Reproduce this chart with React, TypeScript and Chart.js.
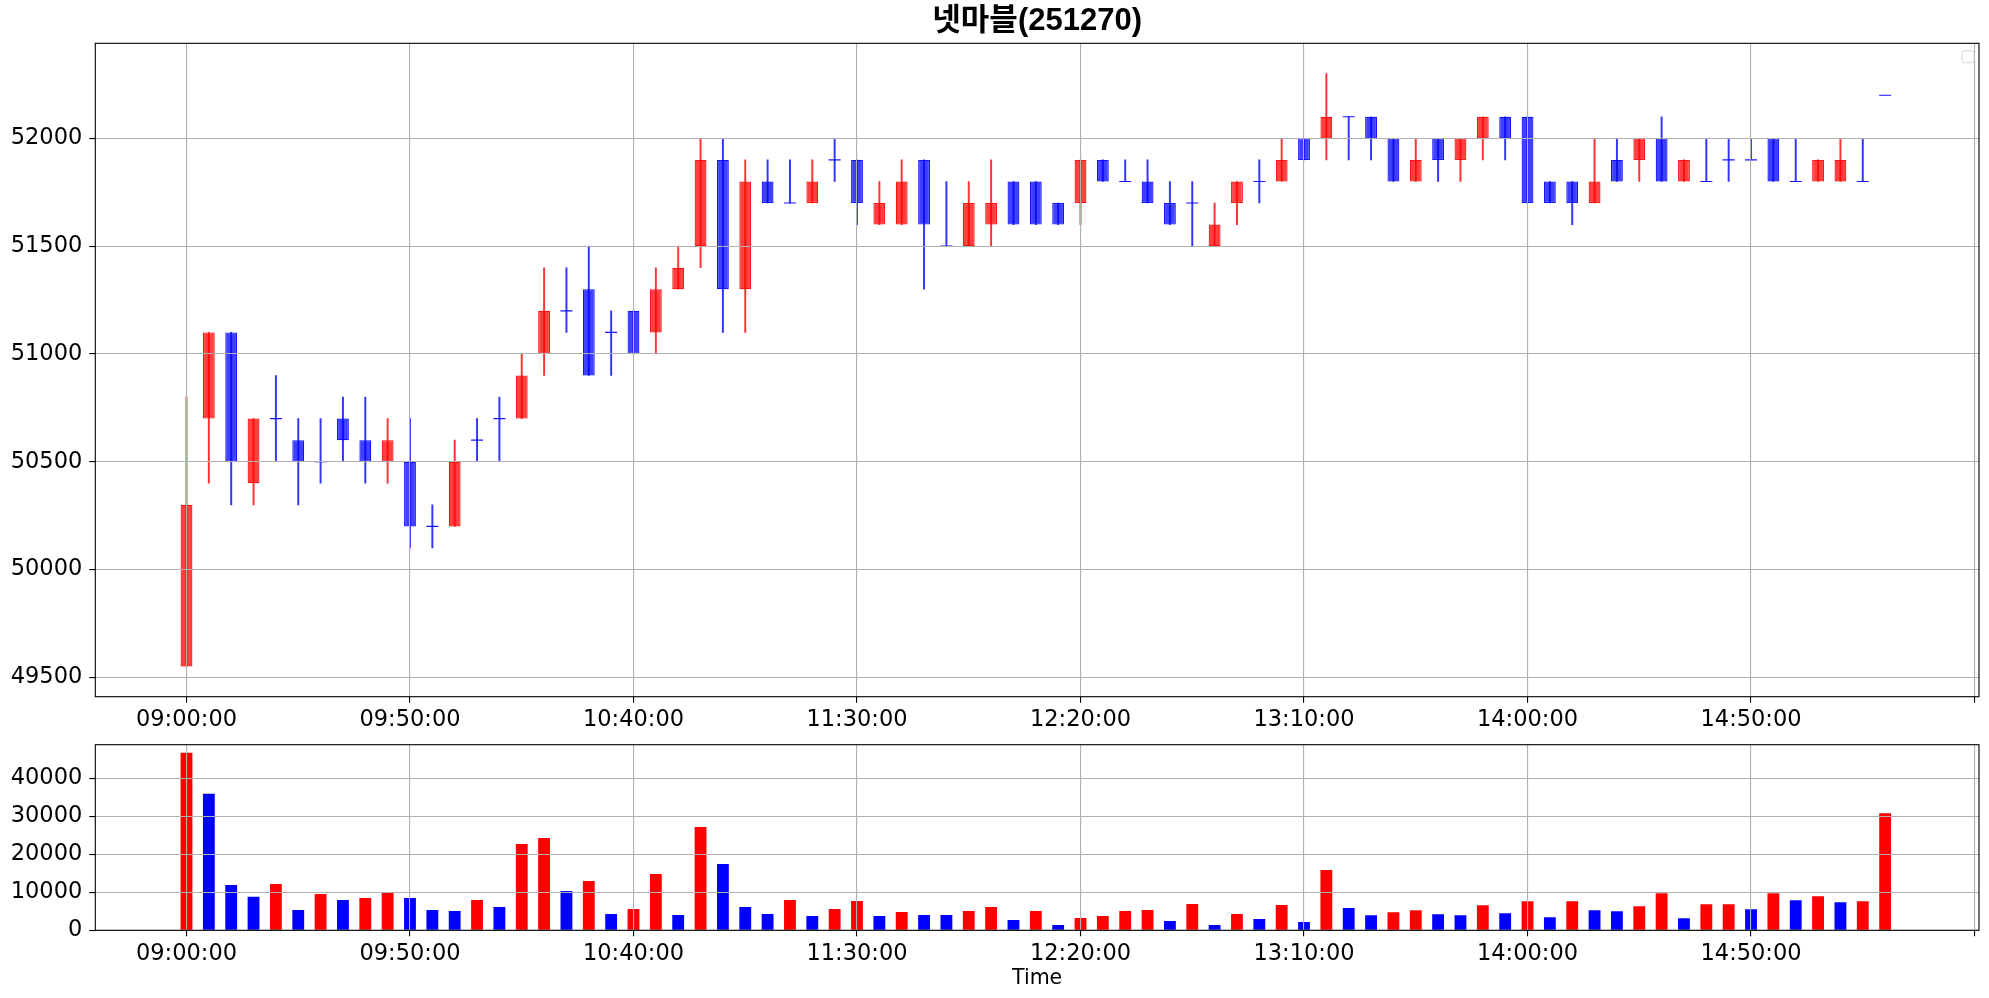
import { useEffect, useRef } from 'react';
import { Chart, registerables } from 'chart.js';

Chart.register(...registerables);

const times = [
  '09:00:00', '09:05:00', '09:10:00', '09:15:00', '09:20:00', '09:25:00', '09:30:00', '09:35:00', '09:40:00', '09:45:00',
  '09:50:00', '09:55:00', '10:00:00', '10:05:00', '10:10:00', '10:15:00', '10:20:00', '10:25:00', '10:30:00', '10:35:00',
  '10:40:00', '10:45:00', '10:50:00', '10:55:00', '11:00:00', '11:05:00', '11:10:00', '11:15:00', '11:20:00', '11:25:00',
  '11:30:00', '11:35:00', '11:40:00', '11:45:00', '11:50:00', '11:55:00', '12:00:00', '12:05:00', '12:10:00', '12:15:00',
  '12:20:00', '12:25:00', '12:30:00', '12:35:00', '12:40:00', '12:45:00', '12:50:00', '12:55:00', '13:00:00', '13:05:00',
  '13:10:00', '13:15:00', '13:20:00', '13:25:00', '13:30:00', '13:35:00', '13:40:00', '13:45:00', '13:50:00', '13:55:00',
  '14:00:00', '14:05:00', '14:10:00', '14:15:00', '14:20:00', '14:25:00', '14:30:00', '14:35:00', '14:40:00', '14:45:00',
  '14:50:00', '14:55:00', '15:00:00', '15:05:00', '15:10:00', '15:15:00', '15:20:00',
];

const opens = [
  49550, 50700, 51100, 50400, 50700, 50600, 50500, 50700, 50600, 50500,
  50500, 50200, 50200, 50600, 50700, 50700, 51000, 51200, 51300, 51100,
  51200, 51100, 51300, 51500, 51900, 51300, 51800, 51700, 51700, 51900,
  51900, 51600, 51600, 51900, 51500, 51500, 51600, 51800, 51800, 51700,
  51700, 51900, 51800, 51800, 51700, 51700, 51500, 51700, 51800, 51800,
  52000, 52000, 52100, 52100, 52000, 51800, 52000, 51900, 52000, 52100,
  52100, 51800, 51800, 51700, 51900, 51900, 52000, 51800, 51800, 51900,
  51900, 52000, 51800, 51800, 51800, 51800, 52200,
];

const highs = [
  50800, 51100, 51100, 50700, 50900, 50700, 50700, 50800, 50800, 50700,
  50700, 50300, 50600, 50700, 50800, 51000, 51400, 51400, 51500, 51200,
  51200, 51400, 51500, 52000, 52000, 51900, 51900, 51900, 51900, 52000,
  51900, 51800, 51900, 51900, 51800, 51800, 51900, 51800, 51800, 51700,
  51900, 51900, 51900, 51900, 51800, 51800, 51700, 51800, 51900, 52000,
  52000, 52300, 52100, 52100, 52000, 52000, 52000, 52000, 52100, 52100,
  52100, 51800, 51800, 52000, 52000, 52000, 52100, 51900, 52000, 52000,
  52000, 52000, 52000, 51900, 52000, 52000, 52200,
];

const lows = [
  49550, 50400, 50300, 50300, 50500, 50300, 50400, 50500, 50400, 50400,
  50100, 50100, 50200, 50500, 50500, 50700, 50900, 51100, 50900, 50900,
  51000, 51000, 51300, 51400, 51100, 51100, 51700, 51700, 51700, 51800,
  51600, 51600, 51600, 51300, 51500, 51500, 51500, 51600, 51600, 51600,
  51600, 51800, 51800, 51700, 51600, 51500, 51500, 51600, 51700, 51800,
  51900, 51900, 51900, 51900, 51800, 51800, 51800, 51800, 51900, 51900,
  51700, 51700, 51600, 51700, 51800, 51800, 51800, 51800, 51800, 51800,
  51900, 51800, 51800, 51800, 51800, 51800, 52200,
];

const closes = [
  50300, 51100, 50500, 50700, 50700, 50500, 50500, 50600, 50500, 50600,
  50200, 50200, 50500, 50600, 50700, 50900, 51200, 51200, 50900, 51100,
  51000, 51300, 51400, 51900, 51300, 51800, 51700, 51700, 51800, 51900,
  51700, 51700, 51800, 51600, 51500, 51700, 51700, 51600, 51600, 51600,
  51900, 51800, 51800, 51700, 51600, 51700, 51600, 51800, 51800, 51900,
  51900, 52100, 52100, 52000, 51800, 51900, 51900, 52000, 52100, 52000,
  51700, 51700, 51700, 51800, 51800, 52000, 51800, 51900, 51800, 51900,
  51900, 51800, 51800, 51900, 51900, 51800, 52200,
];

const volumes = [
  46700, 35900, 11900, 8800, 12200, 5350, 9560, 7980, 8510, 9820,
  8510, 5350, 5090, 7980, 6140, 22720, 24300, 10350, 12980, 4300,
  5610, 14820, 4040, 27190, 17460, 6140, 4300, 7980, 3770, 5610,
  7720, 3770, 4820, 4040, 4040, 5090, 6140, 2720, 5090, 1400,
  3250, 3770, 5090, 5350, 2460, 6930, 1400, 4300, 2980, 6670,
  2190, 15880, 5880, 3950, 4740, 5260, 4210, 3950, 6580, 4470,
  7630, 3420, 7630, 5260, 5000, 6320, 9740, 3160, 6840, 6840,
  5530, 9740, 7890, 8950, 7370, 7630, 30790,
];

// 1 = red (buy side), -1 = blue (sell side)
const volumeSide = [
  1, -1, -1, -1, 1, -1, 1, -1, 1, 1,
  -1, -1, -1, 1, -1, 1, 1, -1, 1, -1,
  1, 1, -1, 1, -1, -1, -1, 1, -1, 1,
  1, -1, 1, -1, -1, 1, 1, -1, 1, -1,
  1, 1, 1, 1, -1, 1, -1, 1, -1, 1,
  -1, 1, -1, -1, 1, 1, -1, -1, 1, -1,
  1, -1, 1, -1, -1, 1, 1, -1, 1, 1,
  -1, 1, -1, 1, -1, 1, 1,
];

const priceTicks = [49500, 50000, 50500, 51000, 51500, 52000];
const volumeTicks = [0, 10000, 20000, 30000, 40000];
const timeTickIndex = [0, 10, 20, 30, 40, 50, 60, 70, 80];

const TITLE = '넷마블(251270)';

const W = 1989;
const PRICE_H = 740;
const VOL_TOP = 714;
const VOL_H = 998 - VOL_TOP;
const X_MIN = -4.08;
const X_MAX = 80.2;
const AXIS_W = 95.3;
const RIGHT_PAD = 10;

const framePlugin = {
  id: 'frame',
  afterDraw(chart: any) {
    const { ctx, chartArea: a } = chart;
    ctx.save();
    ctx.strokeStyle = '#000';
    ctx.lineWidth = 1.1;
    ctx.strokeRect(a.left, a.top, a.right - a.left, a.bottom - a.top);
    ctx.restore();
  },
};

const emptyLegendPlugin = {
  id: 'emptyLegend',
  afterDraw(chart: any) {
    const { ctx, chartArea: a } = chart;
    const s = 12;
    const x = a.right - 17;
    const y = a.top + 7.4;
    ctx.save();
    ctx.beginPath();
    if (ctx.roundRect) ctx.roundRect(x, y, s, s, 2.5);
    else ctx.rect(x, y, s, s);
    ctx.fillStyle = 'rgba(255,255,255,0.8)';
    ctx.fill();
    ctx.strokeStyle = '#d4d4d4';
    ctx.lineWidth = 1;
    ctx.stroke();
    ctx.restore();
  },
};

const tickFont = { family: "'DejaVu Sans'", size: 22.5 };

function xAxis(height: number, withTitle: boolean) {
  return {
    type: 'linear',
    min: X_MIN,
    max: X_MAX,
    offset: false,
    grid: { offset: false, color: '#b0b0b0', lineWidth: 1.1, z: 1, tickColor: '#000', tickLength: 6, tickWidth: 1.1 },
    border: { display: false },
    afterBuildTicks: (s: any) => {
      s.ticks = timeTickIndex.map((v) => ({ value: v }));
    },
    ticks: {
      autoSkip: false,
      maxRotation: 0,
      minRotation: 0,
      color: '#000',
      font: tickFont,
      padding: 4,
      callback: (v: any) => times[Math.round(Number(v))] ?? '',
    },
    title: withTitle
      ? { display: true, text: 'Time', color: '#000', font: { family: "'DejaVu Sans'", size: 20.5 }, padding: { top: 0, bottom: 7 } }
      : { display: false },
    afterFit: (s: any) => {
      s.height = height;
    },
  };
}

function yAxis(min: number, max: number, tickValues: number[]) {
  return {
    type: 'linear',
    min,
    max,
    grid: { offset: false, color: '#b0b0b0', lineWidth: 1.1, z: 1, tickColor: '#000', tickLength: 6, tickWidth: 1.1 },
    border: { display: false },
    afterBuildTicks: (s: any) => {
      s.ticks = tickValues.map((v) => ({ value: v }));
    },
    ticks: {
      autoSkip: false,
      color: '#000',
      font: tickFont,
      padding: 7,
      callback: (v: any) => String(v),
    },
    afterFit: (s: any) => {
      s.width = AXIS_W;
    },
  };
}

export default function App() {
  const priceRef = useRef<HTMLCanvasElement>(null);
  const volRef = useRef<HTMLCanvasElement>(null);

  useEffect(() => {
    document.body.style.margin = '0';
    Chart.defaults.font.family = "'DejaVu Sans'";
    Chart.defaults.color = '#000';

    const idx = times.map((_, i) => i);
    const isUp = idx.map((i) => closes[i] > opens[i]);
    const fill = isUp.map((u) => (u ? 'rgba(255,0,0,0.75)' : 'rgba(0,0,255,0.75)'));
    const edge = isUp.map((u) => (u ? 'rgba(255,0,0,0.92)' : 'rgba(0,0,255,0.92)'));
    const wickCol = isUp.map((u) => (u ? 'rgba(255,0,0,0.8)' : 'rgba(0,0,255,0.8)'));
    const dojiIdx = idx.filter((i) => opens[i] === closes[i]);

    const price = new Chart(priceRef.current as HTMLCanvasElement, {
      type: 'bar',
      data: {
        datasets: [
          {
            type: 'line',
            label: 'doji',
            data: dojiIdx.map((i) => ({ x: i, y: opens[i] })),
            showLine: false,
            pointStyle: 'line',
            pointRadius: 6,
            pointBorderWidth: 1.1,
            borderColor: dojiIdx.map((i) => edge[i]),
            pointBorderColor: dojiIdx.map((i) => edge[i]),
            order: 0,
          } as any,
          {
            label: 'wick',
            data: idx.map((i) => ({ x: i, y: [lows[i], highs[i]] })),
            backgroundColor: wickCol,
            borderWidth: 0,
            barThickness: 1.3,
            grouped: false,
            order: 1,
          } as any,
          {
            label: 'body',
            data: idx.map((i) => ({ x: i, y: [opens[i], closes[i]] })),
            backgroundColor: fill,
            borderColor: edge,
            borderWidth: 1.2,
            borderSkipped: false,
            barPercentage: 0.53,
            categoryPercentage: 1,
            grouped: false,
            order: 2,
          } as any,
        ],
      },
      options: {
        responsive: false,
        animation: false,
        layout: { padding: { left: 0, right: RIGHT_PAD, top: 0, bottom: 0 } },
        plugins: {
          legend: { display: false },
          tooltip: { enabled: false },
          title: {
            display: true,
            text: TITLE,
            fullSize: false,
            color: '#000',
            font: { family: "'Liberation Sans', 'Noto Sans CJK KR', sans-serif", size: 31, weight: 'bold', lineHeight: 1.2 },
            padding: { top: 3, bottom: 3.1 },
          },
        },
        scales: {
          x: xAxis(PRICE_H - 696.7, false),
          y: yAxis(49410, 52441, priceTicks),
        },
      } as any,
      plugins: [framePlugin, emptyLegendPlugin],
    });

    const vol = new Chart(volRef.current as HTMLCanvasElement, {
      type: 'bar',
      data: {
        datasets: [
          {
            label: 'volume',
            data: idx.map((i) => ({ x: i, y: volumes[i] })),
            backgroundColor: idx.map((i) => (volumeSide[i] > 0 ? '#ff0000' : '#0000ff')),
            borderWidth: 0,
            barPercentage: 0.53,
            categoryPercentage: 1,
            grouped: false,
          } as any,
        ],
      },
      options: {
        responsive: false,
        animation: false,
        layout: { padding: { left: 0, right: RIGHT_PAD, top: 744.7 - VOL_TOP, bottom: 0 } },
        plugins: { legend: { display: false }, tooltip: { enabled: false } },
        scales: {
          x: xAxis(VOL_H - (930.3 - VOL_TOP), true),
          y: yAxis(0, 48840, volumeTicks),
        },
      } as any,
      plugins: [framePlugin],
    });

    return () => {
      price.destroy();
      vol.destroy();
    };
  }, []);

  return (
    <div style={{ position: 'relative', width: W, height: 998, background: '#fff', overflow: 'hidden' }}>
      <canvas
        ref={priceRef}
        width={W}
        height={PRICE_H}
        style={{ position: 'absolute', left: 0, top: 0, width: W, height: PRICE_H }}
      />
      <canvas
        ref={volRef}
        width={W}
        height={VOL_H}
        style={{ position: 'absolute', left: 0, top: VOL_TOP, width: W, height: VOL_H }}
      />
    </div>
  );
}
